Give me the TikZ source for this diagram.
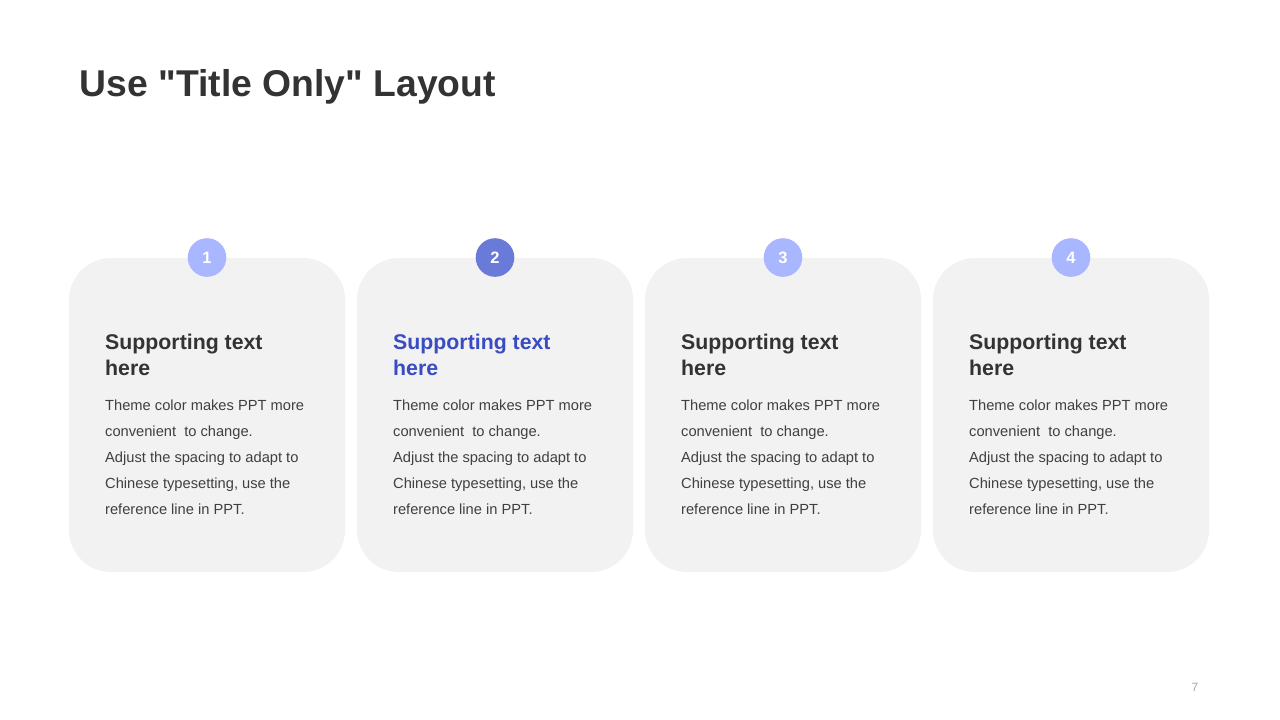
\documentclass[tikz,border=0pt]{standalone}
\usepackage{fontspec}
\setmainfont{Liberation Sans}
\newfontfamily\plainsans{Liberation Sans}
\definecolor{cardgray}{HTML}{F2F2F2}
\definecolor{lightdot}{HTML}{A8B7FF}
\definecolor{darkdot}{HTML}{6A7AD8}
\definecolor{headblue}{HTML}{3A4CC2}
\definecolor{titlegray}{HTML}{333333}
\definecolor{bodygray}{HTML}{404040}
\definecolor{pagegray}{HTML}{A6A6A6}
\begin{document}
\begin{tikzpicture}[x=1pt,y=-1pt,
  card/.style={fill=cardgray, draw=none, rounded corners=42pt},
  dot/.style={circle, draw=none, minimum size=38.6pt, inner sep=0pt, text=white,
    font=\fontsize{16.5}{16.5}\selectfont\bfseries},
  head/.style={anchor=base west, inner sep=0pt, font=\fontsize{21.3}{21.3}\selectfont\bfseries},
  body/.style={anchor=base west, inner sep=0pt, text=bodygray, font=\fontsize{14.67}{14.67}\selectfont},
]
\useasboundingbox (0,0) rectangle (1280,720);
\fill[white] (0,0) rectangle (1280,720);
\node[anchor=base west, inner sep=0pt, text=titlegray, font=\plainsans\fontsize{37.3}{37.3}\selectfont\bfseries] (title) at (79.5,96) {Use "Title Only" Layout};
\foreach \i/\dc/\hc in {1/lightdot/titlegray, 2/darkdot/headblue, 3/lightdot/titlegray, 4/lightdot/titlegray} {
  \pgfmathsetmacro{\xo}{69+(\i-1)*288}
  \fill[card] (\xo,258) rectangle ++(276,314);
  \node[dot, fill=\dc] (dot\i) at (\xo+138,257.5) {\i};
  \node[head, text=\hc] (h\i a) at (\xo+36,349.5) {Supporting text};
  \node[head, text=\hc] (h\i b) at (\xo+36,375.5) {here};
  \node[body] (b\i a) at (\xo+36,410) {Theme color makes PPT more};
  \node[body] (b\i b) at (\xo+36,436) {convenient\ \ to change.};
  \node[body] (b\i c) at (\xo+36,462) {Adjust the spacing to adapt to};
  \node[body] (b\i d) at (\xo+36,488) {Chinese typesetting, use the};
  \node[body] (b\i e) at (\xo+36,514) {reference line in PPT.};
}
\node[anchor=base, inner sep=0pt, text=pagegray, font=\fontsize{12}{12}\selectfont] (page) at (1195,691) {7};
\end{tikzpicture}
\end{document}
